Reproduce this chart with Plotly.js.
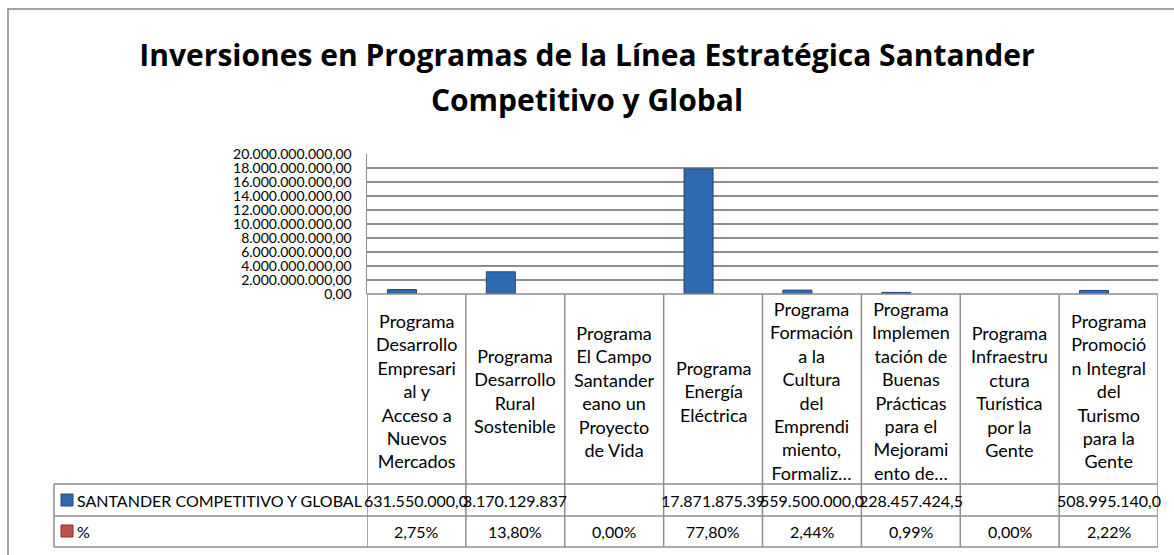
<!DOCTYPE html>
<html><head><meta charset="utf-8">
<script src="https://cdn.plot.ly/plotly-3.0.1.min.js"></script>
<style>html,body{margin:0;padding:0;background:#fff;}#chart{width:1174px;height:555px;}</style>
</head><body><div id="chart"></div>
<script>
// ---- data ----
const categories = [
  "Programa Desarrollo Empresarial y Acceso a Nuevos Mercados",
  "Programa Desarrollo Rural Sostenible",
  "Programa El Campo Santandereano un Proyecto de Vida",
  "Programa Energía Eléctrica",
  "Programa Formación a la Cultura del Emprendimiento, Formaliz…",
  "Programa Implementación de Buenas Prácticas para el Mejoramiento de…",
  "Programa Infraestructura Turística por la Gente",
  "Programa Promoción Integral del Turismo para la Gente"
];
const tickLabels = [
  ["Programa","Desarrollo","Empresari","al y","Acceso a","Nuevos","Mercados"],
  ["Programa","Desarrollo","Rural","Sostenible"],
  ["Programa","El Campo","Santander","eano un","Proyecto","de Vida"],
  ["Programa","Energía","Eléctrica"],
  ["Programa","Formación","a la","Cultura","del","Emprendi","miento,","Formaliz…"],
  ["Programa","Implemen","tación de","Buenas","Prácticas","para el","Mejorami","ento de…"],
  ["Programa","Infraestru","ctura","Turística","por la","Gente"],
  ["Programa","Promoció","n Integral","del","Turismo","para la","Gente"]
];
const seriesName = "SANTANDER COMPETITIVO Y GLOBAL";
const investment = [631550000, 3170129837, null, 17871875390, 559500000, 228457424.5, null, 508995140];
const pctName = "%";
const percent = [2.75, 13.80, 0.00, 77.80, 2.44, 0.99, 0.00, 2.22];
const yTickVals = [0, 2e9, 4e9, 6e9, 8e9, 10e9, 12e9, 14e9, 16e9, 18e9, 20e9];
const titleLines = ["Inversiones en Programas de la Línea Estratégica Santander", "Competitivo y Global"];

// ---- layout geometry (pixels) ----
const W = 1174, H = 555, L = 367, R = 1158, T = 154, B = 294;
const py = Y => (B - Y) / (B - T);
const px = X => (X - L) / (R - L);
const FONT = "Lato, 'Open Sans', sans-serif";
const TFONT = "'Open Sans', Lato, sans-serif";
const GRID = "#8e8e8e";

function fmtNum(v) {
  if (v === null || v === undefined) return "";
  const p = v.toFixed(2).split(".");
  const ip = p[0].replace(/\B(?=(\d{3})+(?!\d))/g, ".");
  return (ip + "," + p[1]).slice(0, 13);
}
const fmtPct = v => v.toFixed(2).replace(".", ",") + "%";

const xIdx = categories.map((c, i) => i);

const traces = [
  {type: "bar", name: seriesName, x: xIdx, y: investment,
   marker: {color: "#2F69B0", line: {color: "#1E4878", width: 1}}, hoverinfo: "skip"},
  {type: "bar", name: pctName, x: xIdx, y: percent.map(v => v / 100),
   marker: {color: "#C0504D", line: {width: 0}}, hoverinfo: "skip"}
];

const HDR_BOT = 484, ROW1_BOT = 516, ROW2_BOT = 547, LEG_L = 54;
const lineStyle = {color: GRID, width: 1.5};
const shapes = [];
shapes.push({type: "rect", xref: "paper", yref: "paper", x0: px(8), x1: px(1200), y0: py(9), y1: py(600),
  line: {color: "#888888", width: 1.5}, fillcolor: "rgba(0,0,0,0)", layer: "below"});
shapes.push({type: "line", xref: "paper", yref: "paper", x0: 0, x1: 1, y0: 0, y1: 0, line: lineStyle});
[HDR_BOT, ROW1_BOT, ROW2_BOT].forEach(Y => shapes.push({type: "line", xref: "paper", yref: "paper",
  x0: px(LEG_L), x1: 1, y0: py(Y), y1: py(Y), line: lineStyle}));
shapes.push({type: "line", xref: "paper", yref: "paper", x0: px(LEG_L), x1: px(LEG_L), y0: py(HDR_BOT), y1: py(ROW2_BOT), line: lineStyle});
for (let i = 0; i <= categories.length; i++) {
  shapes.push({type: "line", xref: "x", yref: "paper", x0: i - 0.5, x1: i - 0.5, y0: py(B), y1: py(ROW2_BOT), line: lineStyle});
}
shapes.push({type: "rect", xref: "paper", yref: "paper", x0: px(61), x1: px(73), y0: py(506), y1: py(494),
  fillcolor: "#2F69B0", line: {color: "#1F4A80", width: 1}});
shapes.push({type: "rect", xref: "paper", yref: "paper", x0: px(61), x1: px(73), y0: py(537), y1: py(525),
  fillcolor: "#C0504D", line: {color: "#8B2B28", width: 1}});

const annotations = [];
const txtFont = {family: FONT, size: 16, color: "#000"};
tickLabels.forEach((lines, i) => annotations.push({x: i, xref: "x", y: py(391), yref: "paper",
  text: lines.join("<br>"), showarrow: false, xanchor: "center", yanchor: "middle",
  font: {family: FONT, size: 18, color: "#000"}}));
investment.forEach((v, i) => annotations.push({x: i, xref: "x", y: py(500), yref: "paper",
  text: fmtNum(v), showarrow: false, xanchor: "center", yanchor: "middle", font: txtFont}));
percent.forEach((v, i) => annotations.push({x: i, xref: "x", y: py(531.5), yref: "paper",
  text: fmtPct(v), showarrow: false, xanchor: "center", yanchor: "middle", font: txtFont}));
annotations.push({x: px(75), xref: "paper", y: py(500), yref: "paper", text: seriesName, showarrow: false,
  xanchor: "left", yanchor: "middle", font: txtFont});
annotations.push({x: px(75), xref: "paper", y: py(531.5), yref: "paper", text: pctName, showarrow: false,
  xanchor: "left", yanchor: "middle", font: txtFont});

const TSIZE = 30;
const layout = {
  width: W, height: H,
  margin: {l: L, r: W - R, t: T, b: H - B, pad: 0},
  paper_bgcolor: "#fff", plot_bgcolor: "#fff",
  separators: ",.",
  showlegend: false,
  barmode: "group", bargap: 0.413, bargroupgap: 0,
  title: {text: titleLines.map(t => "<span style='font-size:" + TSIZE + "px'>" + t + "</span>").join("<br>"),
    x: 0.5, xanchor: "center", xref: "container",
    y: 1 - 66 / H, yanchor: "middle", yref: "container",
    font: {family: TFONT, size: 34.5, weight: 700, color: "#000"}},
  xaxis: {type: "linear", range: [-0.5, categories.length - 0.5], showticklabels: false, showgrid: false,
    zeroline: false, showline: false, ticks: "", fixedrange: true},
  yaxis: {range: [0, 20e9], tickvals: yTickVals, tickformat: ",.2f", showgrid: true, gridcolor: GRID, gridwidth: 1.5,
    zeroline: false, showline: true, linecolor: GRID, linewidth: 1.5, ticks: "", ticklabelstandoff: 11,
    tickfont: {family: FONT, size: 14, color: "#000"}, fixedrange: true},
  shapes: shapes,
  annotations: annotations
};
Plotly.newPlot("chart", traces, layout, {displayModeBar: false, staticPlot: true});
</script>
</body></html>
